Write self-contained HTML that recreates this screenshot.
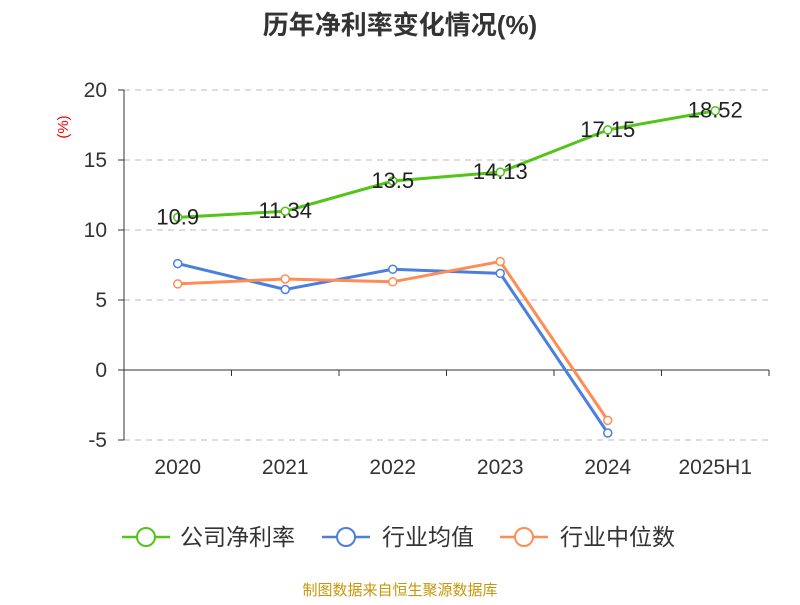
<!DOCTYPE html>
<html><head><meta charset="utf-8"><style>
body{margin:0;background:#fff;font-family:"Liberation Sans","Noto Sans CJK SC",sans-serif;}
</style></head><body>
<svg id="chart" width="800" height="600" xmlns="http://www.w3.org/2000/svg" font-family="Liberation Sans, Noto Sans CJK SC, sans-serif">
<text x="400" y="34" text-anchor="middle" font-size="26" font-weight="bold" fill="#333">历年净利率变化情况(%)</text>
<text x="68" y="127" transform="rotate(-90 68 127)" text-anchor="middle" font-size="15" fill="#e00">(%)</text>
<g id="grid"></g><g id="axes"></g><g id="series"></g>
<g font-size="23" fill="#333">
<g><line x1="122" y1="537" x2="170" y2="537" stroke="#52c41a" stroke-width="2.5"/><circle cx="146" cy="537" r="9" fill="#fff" stroke="#52c41a" stroke-width="2"/><text x="180" y="545">公司净利率</text></g>
<g><line x1="322" y1="537" x2="370" y2="537" stroke="#4a7fe0" stroke-width="2.5"/><circle cx="346" cy="537" r="9" fill="#fff" stroke="#4a7fe0" stroke-width="2"/><text x="382" y="545">行业均值</text></g>
<g><line x1="500" y1="537" x2="548" y2="537" stroke="#ff8c55" stroke-width="2.5"/><circle cx="524" cy="537" r="9" fill="#fff" stroke="#ff8c55" stroke-width="2"/><text x="560" y="545">行业中位数</text></g>
</g>
<text x="400" y="595" text-anchor="middle" font-size="15" fill="#c8960a">制图数据来自恒生聚源数据库</text>
</svg>
<script>
const categories=["2020","2021","2022","2023","2024","2025H1"];
const companyValues=[10.9,11.34,13.5,14.13,17.15,18.52];
const avgValues=[7.6,5.75,7.2,6.9,-4.5,null];
const medianValues=[6.15,6.5,6.3,7.75,-3.6,null];
const yTicks=[-5,0,5,10,15,20];
const NS="http://www.w3.org/2000/svg";
const x0=124,x1=769,yTop=90,yBot=440,yMin=-5,yMax=20;
const band=(x1-x0)/categories.length;
const xs=i=>x0+band*(i+0.5);
const ys=v=>yBot-(v-yMin)/(yMax-yMin)*(yBot-yTop);
function mk(t,a,p){const e=document.createElementNS(NS,t);for(const k in a)e.setAttribute(k,a[k]);p.appendChild(e);return e;}
const grid=document.getElementById('grid'),axes=document.getElementById('axes'),ser=document.getElementById('series');
yTicks.forEach(v=>{
 if(v!==0){const g=mk('line',{x1:x0,x2:x1,y1:ys(v),y2:ys(v),stroke:'#bbb','stroke-dasharray':'6,5'},grid);
 
 }
 const t=mk('text',{x:x0-17,y:ys(v)+7,'text-anchor':'end','font-size':21,fill:'#333'},axes);t.textContent=v;
 
 
 mk('line',{x1:x0-6,x2:x0,y1:ys(v),y2:ys(v),stroke:'#333'},axes);
});
const ya=mk('line',{x1:x0,x2:x0,y1:yTop,y2:yBot,stroke:'#333'},axes);


const xa=mk('line',{x1:x0,x2:x1,y1:ys(0),y2:ys(0),stroke:'#333'},axes);


for(let i=0;i<=categories.length;i++)mk('line',{x1:x0+band*i,x2:x0+band*i,y1:ys(0),y2:ys(0)+6,stroke:'#333'},axes);
categories.forEach((c,i)=>{const t=mk('text',{x:xs(i),y:474,'text-anchor':'middle','font-size':21,fill:'#333'},axes);t.textContent=c;
 
 });
function draw(vals,color,name,labels){
 const pts=vals.map((v,i)=>v==null?null:[xs(i),ys(v)]).filter(p=>p);
 const pl=mk('polyline',{points:pts.map(p=>p.join(',')).join(' '),fill:'none',stroke:color,'stroke-width':3},ser);
 
 
 vals.forEach((v,i)=>{if(v==null)return;
  const c=mk('circle',{cx:xs(i),cy:ys(v),r:4,fill:'#fff',stroke:color,'stroke-width':1.5},ser);
  
  
  if(labels){const t=mk('text',{x:xs(i),y:ys(v)+7,'text-anchor':'middle','font-size':22,fill:'#222'},ser);t.textContent=v;
   
   }
 });
}
draw(avgValues,'#4a7fe0','industry-avg',false);
draw(medianValues,'#ff8c55','industry-median',false);
draw(companyValues,'#52c41a','company',true);
</script>
</body></html>
